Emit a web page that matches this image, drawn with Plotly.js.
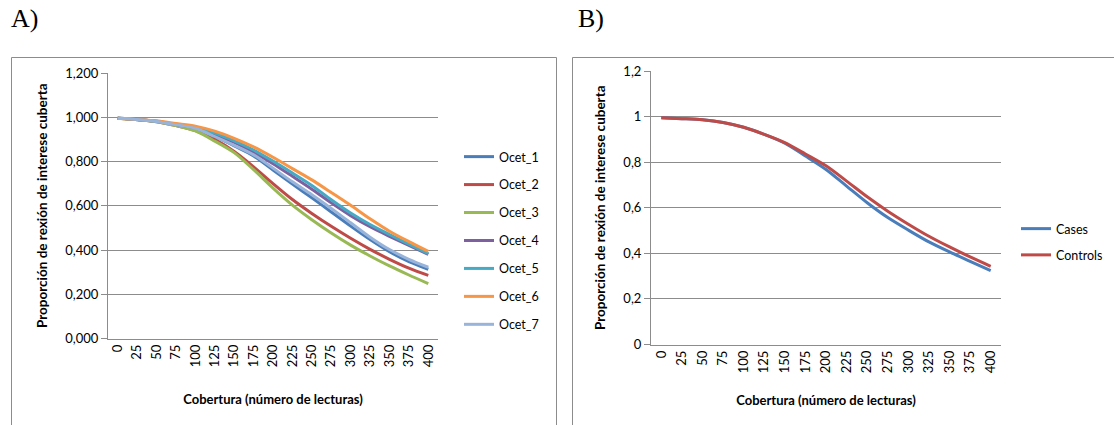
<!DOCTYPE html>
<html>
<head>
<meta charset="utf-8">
<script src="https://cdn.plot.ly/plotly-3.0.1.min.js"></script>
<style>
  html, body { margin: 0; padding: 0; background: #fff; }
  #chart { width: 1114px; height: 425px; }
</style>
</head>
<body>
<div id="chart"></div>
<script>
// ---- Data ----
const coverage = ["0","25","50","75","100","125","150","175","200","225","250","275","300","325","350","375","400"];

const ocet1 = [0.995,0.990,0.981,0.966,0.950,0.915,0.870,0.825,0.762,0.698,0.636,0.572,0.508,0.447,0.392,0.348,0.313];
const ocet2 = [0.995,0.989,0.980,0.962,0.940,0.900,0.845,0.776,0.700,0.628,0.565,0.507,0.453,0.403,0.358,0.318,0.285];
const ocet3 = [0.995,0.989,0.980,0.962,0.938,0.892,0.840,0.763,0.680,0.603,0.537,0.477,0.422,0.373,0.328,0.287,0.248];
const ocet4 = [0.995,0.990,0.982,0.967,0.953,0.923,0.886,0.842,0.790,0.733,0.675,0.613,0.555,0.505,0.462,0.421,0.380];
const ocet5 = [0.995,0.990,0.982,0.968,0.955,0.928,0.893,0.852,0.802,0.748,0.692,0.627,0.567,0.515,0.470,0.427,0.384];
const ocet6 = [0.995,0.990,0.984,0.972,0.960,0.937,0.905,0.866,0.819,0.768,0.717,0.660,0.602,0.541,0.485,0.438,0.394];
const ocet7 = [0.995,0.990,0.981,0.966,0.950,0.913,0.873,0.830,0.770,0.708,0.650,0.588,0.523,0.458,0.402,0.358,0.322];

const cases    = [0.995,0.991,0.986,0.974,0.953,0.922,0.883,0.827,0.768,0.695,0.622,0.557,0.502,0.450,0.406,0.365,0.324];
const controls = [0.995,0.991,0.986,0.974,0.953,0.922,0.886,0.836,0.784,0.717,0.648,0.585,0.528,0.475,0.428,0.384,0.343];

const namesA = ["Ocet_1","Ocet_2","Ocet_3","Ocet_4","Ocet_5","Ocet_6","Ocet_7"];
const seriesA = [ocet1, ocet2, ocet3, ocet4, ocet5, ocet6, ocet7];
const colorsA = ["#4A7EBB","#BE4B48","#98B954","#7D60A0","#46AAC5","#F79646","#98B4DA"];

const namesB = ["Cases","Controls"];
const seriesB = [cases, controls];
const colorsB = ["#4A7EBB","#BE4B48"];

const yTitle = "Proporción de rexión de interese cuberta";
const xTitle = "Cobertura (número de lecturas)";

// ---- Build ----
const W = 1114, H = 425;
const px = v => v / W;
const py = v => (H - v) / H;
const FONT = "Lato, 'Open Sans', sans-serif";
const GRID = "#8c8c8c";

const traces = [];
seriesA.forEach((s, i) => traces.push({
  x: coverage, y: s, name: namesA[i], type: "scatter", mode: "lines",
  line: {color: colorsA[i], width: 3, shape: "spline", smoothing: 0.8},
  xaxis: "x", yaxis: "y", legend: "legend", legendgroup: "a" + i
}));
seriesB.forEach((s, i) => traces.push({
  x: coverage, y: s, name: namesB[i], type: "scatter", mode: "lines",
  line: {color: colorsB[i], width: 3, shape: "spline", smoothing: 0.8},
  xaxis: "x2", yaxis: "y2", legend: "legend2", legendgroup: "b" + i
}));

function xAxis(domain, anchor, standoff) {
  return {
    domain: domain, anchor: anchor, type: "category", range: [-0.5, coverage.length - 0.5],
    showline: true, linecolor: GRID, linewidth: 1,
    showgrid: false, ticks: "", tickangle: -90,
    tickfont: {family: FONT, size: 13, color: "#000"},
    title: {text: xTitle, font: {family: FONT, size: 13, color: "#000", weight: "bold"}, standoff: standoff},
    automargin: false, fixedrange: true
  };
}
function yAxis(domain, anchor, fmt) {
  return {
    domain: domain, anchor: anchor, range: [0, 1.2], dtick: 0.2, tick0: 0,
    tickformat: fmt,
    showline: true, linecolor: GRID, linewidth: 1,
    showgrid: true, gridcolor: GRID, gridwidth: 1, zeroline: false,
    ticks: "outside", ticklen: 6, tickcolor: GRID,
    tickfont: {family: FONT, size: 13, color: "#000"},
    title: {text: yTitle, font: {family: FONT, size: 13.5, color: "#000", weight: "bold"}, standoff: 14},
    automargin: false, fixedrange: true
  };
}

const layout = {
  width: W, height: H,
  margin: {l: 0, r: 0, t: 0, b: 0},
  paper_bgcolor: "#fff", plot_bgcolor: "#fff",
  separators: ",.",
  font: {family: FONT, size: 12, color: "#000"},
  xaxis: xAxis([px(108), px(438)], "y", 28),
  yaxis: yAxis([py(338.5), py(73)], "x", ".3f"),
  xaxis2: xAxis([px(651), px(1001)], "y2", 23),
  yaxis2: yAxis([py(344.5), py(71)], "x2", ""),
  legend: {
    x: px(459), y: py(142), xanchor: "left", yanchor: "top",
    bgcolor: "rgba(0,0,0,0)", borderwidth: 0, tracegroupgap: 8.7,
    font: {family: FONT, size: 12.5, color: "#000"}
  },
  legend2: {
    x: px(1016), y: py(214), xanchor: "left", yanchor: "top",
    bgcolor: "rgba(0,0,0,0)", borderwidth: 0, tracegroupgap: 7,
    font: {family: FONT, size: 12.5, color: "#000"}
  },
  shapes: [
    {type: "rect", xref: "paper", yref: "paper", x0: px(11.5), x1: px(556.5), y0: -0.05, y1: py(57.5),
     line: {color: "#8c8c8c", width: 1}, fillcolor: "rgba(0,0,0,0)"},
    {type: "rect", xref: "paper", yref: "paper", x0: px(572.5), x1: 1.05, y0: -0.05, y1: py(57.5),
     line: {color: "#8c8c8c", width: 1}, fillcolor: "rgba(0,0,0,0)"}
  ],
  annotations: [
    {text: "A)", xref: "paper", yref: "paper", x: px(9), y: py(19), xanchor: "left", yanchor: "middle",
     showarrow: false, font: {family: "'Liberation Serif', 'Times New Roman', serif", size: 26, color: "#000"}},
    {text: "B)", xref: "paper", yref: "paper", x: px(576), y: py(19), xanchor: "left", yanchor: "middle",
     showarrow: false, font: {family: "'Liberation Serif', 'Times New Roman', serif", size: 26, color: "#000"}}
  ],
  showlegend: true
};

Plotly.newPlot("chart", traces, layout, {staticPlot: true, displayModeBar: false});
</script>
</body>
</html>
